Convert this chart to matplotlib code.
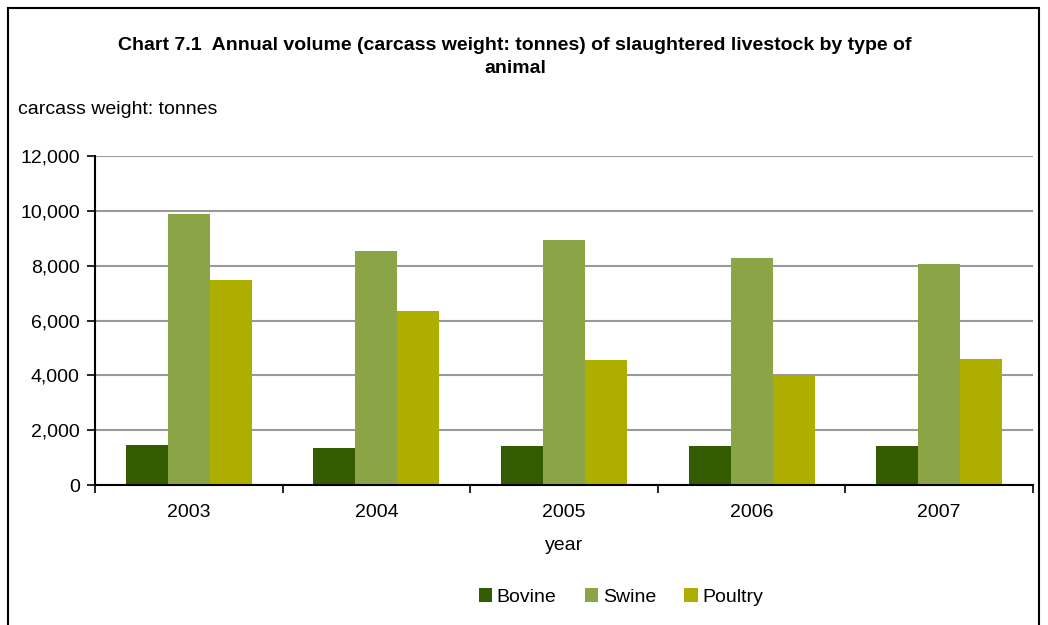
import matplotlib.pyplot as plt
import numpy as np
from matplotlib.patches import Rectangle

plt.rcParams['font.family'] = ['Liberation Sans', 'DejaVu Sans']

# Datos
years = ['2003', '2004', '2005', '2006', '2007']
bovine = [1460, 1350, 1420, 1420, 1420]
swine = [9890, 8540, 8940, 8280, 8070]
poultry = [7480, 6350, 4560, 4010, 4600]

series = [('Bovine', bovine, '#335c00'),
          ('Swine', swine, '#8ba446'),
          ('Poultry', poultry, '#aeae00')]

fig = plt.figure(figsize=(10.48, 6.25), dpi=100)
ax = fig.add_axes([95 / 1048, 1 - 485 / 625, (1033 - 95) / 1048, (485 - 156) / 625])

x = np.arange(len(years))
w = 0.224
for i, (name, vals, col) in enumerate(series):
    ax.bar(x + (i - 1) * w, vals, width=w, color=col, label=name, zorder=3)

ax.set_xlim(-0.5, len(years) - 0.5)
ax.set_ylim(0, 12000)
ax.set_yticks(range(0, 12001, 2000))
ax.set_yticklabels([f'{v:,}' for v in range(0, 12001, 2000)], fontsize=14)
ax.set_xticks(np.arange(-0.5, len(years), 1))
ax.set_xticklabels([])
ax.set_xticks(x, minor=True)
ax.set_xticklabels(years, minor=True, fontsize=14)
ax.tick_params(axis='x', which='minor', length=0, pad=14)
ax.tick_params(axis='x', which='major', length=6, width=1.2, direction='out')
ax.tick_params(axis='y', length=6, width=1.2, direction='out', pad=5)
ax.yaxis.grid(True, color='#999999', linewidth=1.5, zorder=0)
for s in ['top', 'right']:
    ax.spines[s].set_visible(False)
for s in ['left', 'bottom']:
    ax.spines[s].set_linewidth(1.5)
    ax.spines[s].set_zorder(4)

ax.set_xlabel('year', fontsize=14, labelpad=11)

fig.text(515 / 1048, 1 - 57 / 625,
         'Chart 7.1  Annual volume (carcass weight: tonnes) of slaughtered livestock by type of\nanimal',
         ha='center', va='center', fontsize=14, fontweight='bold', linespacing=1.45)
fig.text(18 / 1048, 1 - 109 / 625, 'carcass weight: tonnes', ha='left', va='center', fontsize=14)

ax.legend(loc='center', bbox_to_anchor=((621 - 95) / 938, -(597 - 485) / 329),
          ncol=3, frameon=False, fontsize=14, handlelength=0.68, handleheight=0.68,
          handletextpad=0.25, columnspacing=1.45)

# Marco de la figura
fig.patches.append(Rectangle((8 / 1048, -0.05), (1039 - 8) / 1048, 1 - 8 / 625 + 0.05,
                             transform=fig.transFigure, fill=False, edgecolor='black', linewidth=1.5))

plt.savefig('out.png', dpi=100)
